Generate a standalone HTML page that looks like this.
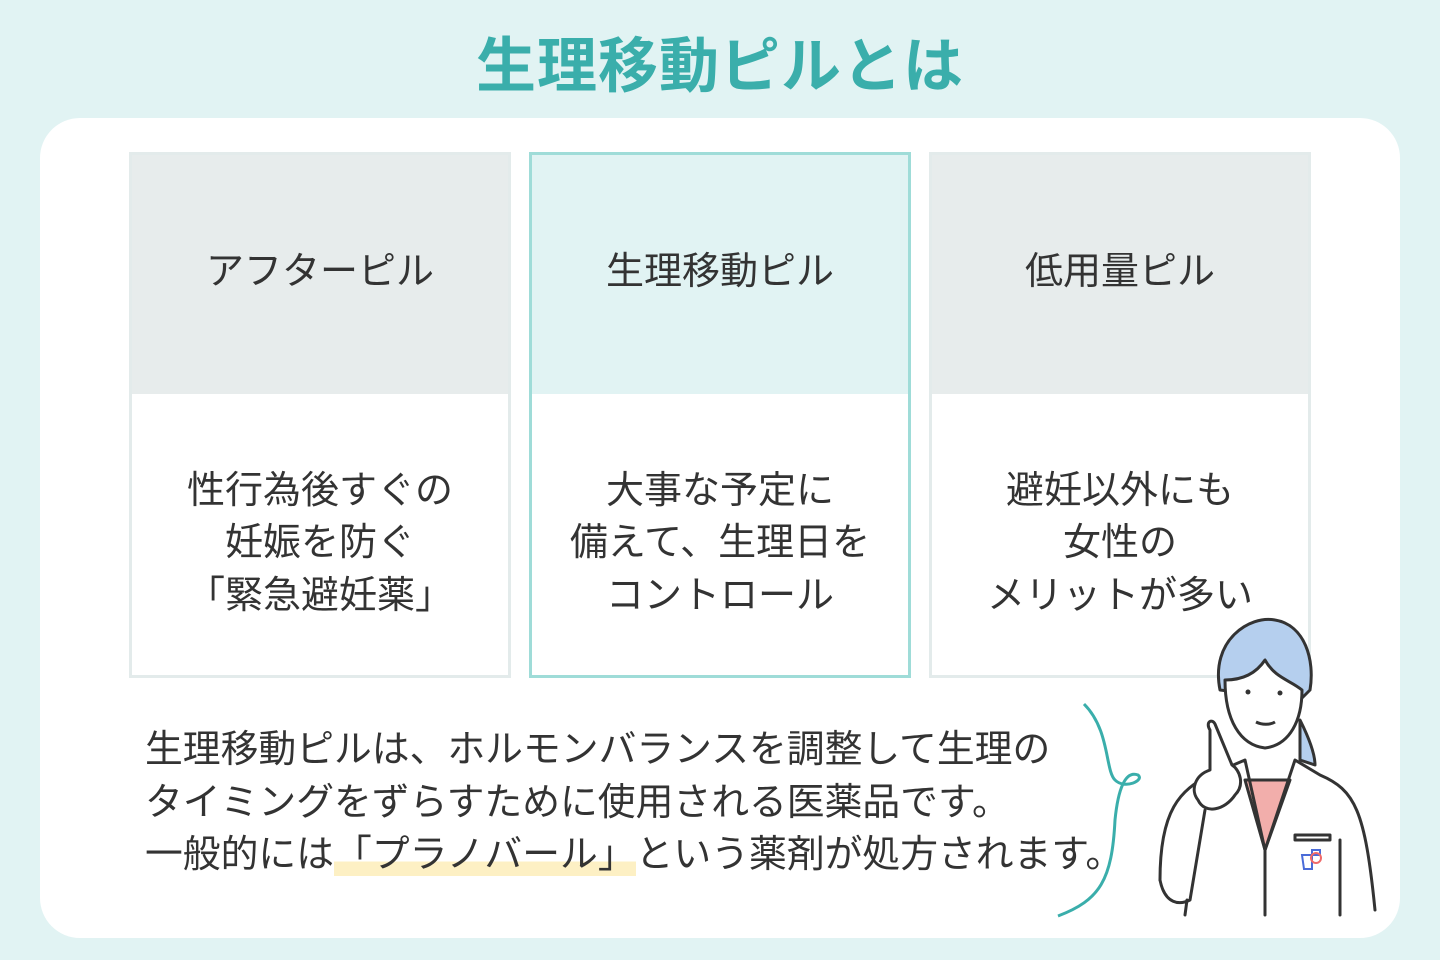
<!DOCTYPE html>
<html><head><meta charset="utf-8"><style>
body{margin:0;width:1440px;height:960px;background:#e1f3f3;font-family:"Liberation Sans","Noto Sans CJK JP",sans-serif;color:#333;position:relative;overflow:hidden}
.title{position:absolute;top:24px;left:0;width:1440px;text-align:center;font-size:60px;font-weight:bold;color:#3aaeab;letter-spacing:1px;line-height:86px}
.card{position:absolute;left:40px;top:118px;width:1360px;height:820px;background:#fff;border-radius:40px}
.box{position:absolute;top:152px;width:376px;height:520px;border:3px solid #e3ebeb;background:#fff}
.box .h{height:239px;background:#e7ecec;display:flex;align-items:center;justify-content:center;font-size:38px;padding-bottom:14px;box-sizing:border-box}
.box .b{height:281px;display:flex;align-items:center;justify-content:center;text-align:center;font-size:38px;line-height:52.5px;padding-top:18px;box-sizing:border-box;white-space:nowrap}
.box.m{border-color:#9fdcd8}
.box.m .h{background:#e1f3f3}
.p{position:absolute;left:145px;top:724px;font-size:37.8px;line-height:52.5px;white-space:nowrap}
.hl{background:linear-gradient(transparent 66%,#fdf0c4 66%)}
</style></head><body>
<div class="title">生理移動ピルとは</div>
<div class="card"></div>
<div class="box" style="left:129px"><div class="h">アフターピル</div><div class="b">性行為後すぐの<br>妊娠を防ぐ<br>「緊急避妊薬」</div></div>
<div class="box m" style="left:529px"><div class="h">生理移動ピル</div><div class="b">大事な予定に<br>備えて、生理日を<br>コントロール</div></div>
<div class="box" style="left:929px"><div class="h">低用量ピル</div><div class="b">避妊以外にも<br>女性の<br>メリットが多い</div></div>
<div class="p">生理移動ピルは、ホルモンバランスを調整して生理の<br>タイミングをずらすために使用される医薬品です。<br>一般的には<span class="hl">「プラノバール」</span>という薬剤が処方されます。</div>
<svg style="position:absolute;left:0;top:0" width="1440" height="960">
<path d="M1084,704 C1110,730 1105,770 1115,780 C1125,790 1145,780 1138,775 C1125,770 1118,790 1115,820 C1112,880 1100,900 1058,916" fill="none" stroke="#3aaeab" stroke-width="3"/>
<g stroke="#333" stroke-width="3" fill="none" stroke-linejoin="round" stroke-linecap="round">
<path d="M1220,690 C1210,640 1250,615 1275,620 C1305,625 1315,660 1310,690 L1300,700 Z" fill="#b5cfee"/>
<path d="M1300,720 C1310,740 1315,755 1315,765 L1300,760 Z" fill="#b5cfee"/>
<path d="M1225,680 C1225,720 1240,745 1265,748 C1290,745 1302,720 1302,690 C1290,680 1275,678 1265,660 C1255,675 1240,680 1225,680 Z" fill="#fff"/>
<path d="M1245,780 L1265,850 L1290,780 Z" fill="#f2aeab"/>
<path d="M1160,880 C1160,810 1180,790 1210,775 L1245,760 L1265,850 L1295,760 L1320,775 C1355,790 1365,810 1375,910"/>
<path d="M1160,880 C1165,905 1180,905 1190,900 L1205,810"/>
<path d="M1265,850 L1265,915 M1340,840 L1340,915 M1187,900 L1185,915"/>
<rect x="1295" y="835" width="35" height="5"/>
<path d="M1210,730 C1205,722 1212,718 1215,724 L1232,765 C1240,770 1245,785 1235,795 C1225,810 1205,815 1198,800 C1190,790 1195,775 1210,770 Z" fill="#fff"/>
</g>
<circle cx="1248" cy="692" r="2.5" fill="#333"/><circle cx="1280" cy="693" r="2.5" fill="#333"/>
<path d="M1256,722 C1262,725 1270,725 1275,722" stroke="#333" stroke-width="3" fill="none"/>
<path d="M1302,855 h10 v-5 h8 v5 h-8 v14 h-8z" stroke="#4a6bd8" stroke-width="2" fill="none"/>
<circle cx="1316" cy="858" r="5" stroke="#f06a6a" stroke-width="2" fill="none"/>
</svg>
</body></html>
